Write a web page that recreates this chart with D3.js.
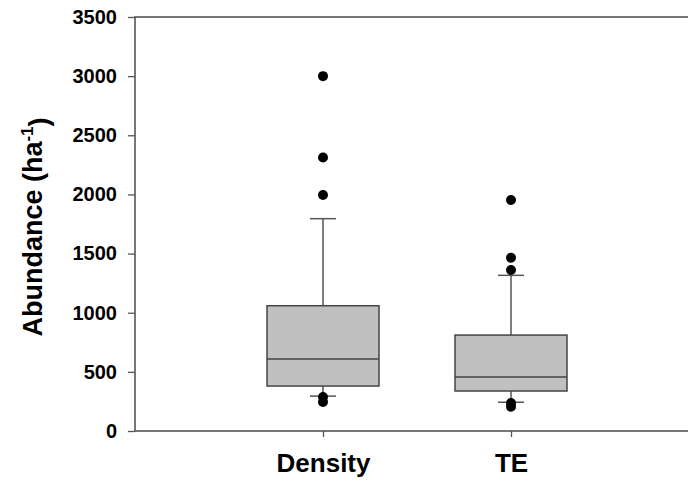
<!DOCTYPE html>
<html>
<head>
<meta charset="utf-8">
<script src="https://d3js.org/d3.v7.min.js"></script>
<style>
  body { margin: 0; background: #fff; }
  text { font-family: Arial, "Liberation Sans", sans-serif; font-weight: bold; fill: #000; }
</style>
</head>
<body>
<div id="chart"></div>
<script>
// Box plot - abundance by method
var svgWidth = 688;
var svgHeight = 482;

var margin = { top: 17, right: -11, bottom: 51, left: 135 };

var width = svgWidth - margin.left - margin.right;
var height = svgHeight - margin.top - margin.bottom;

// data
var categories = ["Density", "TE"];
var whiskerLow = [295, 243];
var q1 = [380, 338];
var median = [609, 456];
var q3 = [1059, 811];
var whiskerHigh = [1795, 1316];
var outliersDensity = [3000, 2312, 1995, 287, 245];
var outliersTE = [1953, 1465, 1361, 237, 205];
var yTicks = [0, 500, 1000, 1500, 2000, 2500, 3000, 3500];

var outliers = [outliersDensity, outliersTE];

var boxes = categories.map(function(c, i) {
    return {
        name: c, pos: i + 1,
        lo: whiskerLow[i], q1: q1[i], med: median[i], q3: q3[i], hi: whiskerHigh[i],
        out: outliers[i]
    };
});

var svg = d3.select("#chart")
    .append("svg")
    .attr("width", svgWidth)
    .attr("height", svgHeight);

var chartGroup = svg.append("g")
    .attr("transform", `translate(${margin.left}, ${margin.top})`);

var xScale = d3.scaleLinear().domain([0, 3]).range([0, width]);
var yScale = d3.scaleLinear().domain([0, 3500]).range([height, 0]);

var axisColor = "#555";
var boxW = 56;
var capW = 13;

// frame
chartGroup.append("rect")
    .attr("x", 0).attr("y", 0)
    .attr("width", width).attr("height", height)
    .attr("fill", "none")
    .attr("stroke", axisColor)
    .attr("stroke-width", 1.6);

// y axis
var leftAxis = d3.axisLeft(yScale).tickValues(yTicks).tickSize(7).tickPadding(11)
    .tickFormat(d3.format("d"));
var yAxis = chartGroup.append("g").call(leftAxis);
yAxis.select(".domain").remove();
yAxis.selectAll("line").attr("stroke", axisColor).attr("stroke-width", 1.3);
yAxis.selectAll("text").attr("font-size", "20px").attr("font-family", "Arial, 'Liberation Sans', sans-serif").attr("font-weight", "bold").attr("fill", "#000");

// x axis
var bottomAxis = d3.axisBottom(xScale).tickValues([1, 2]).tickSize(6).tickPadding(17)
    .tickFormat(function(d) { return categories[d - 1]; });
var xAxis = chartGroup.append("g")
    .attr("transform", `translate(0, ${height})`)
    .call(bottomAxis);
xAxis.select(".domain").remove();
xAxis.selectAll("line").attr("stroke", axisColor).attr("stroke-width", 1.3);
xAxis.selectAll("text").attr("font-size", "26px").attr("font-family", "Arial, 'Liberation Sans', sans-serif").attr("font-weight", "bold").attr("fill", "#000");

// y label
var yLabel = chartGroup.append("text")
    .attr("transform", `translate(${-margin.left + 42}, ${height / 2 + 3}) rotate(-90)`)
    .attr("text-anchor", "middle")
    .attr("font-size", "27px");
yLabel.append("tspan").text("Abundance (ha");
yLabel.append("tspan").attr("dy", "-0.55em").attr("font-size", "17px").text("-1");
yLabel.append("tspan").attr("dy", "0.55em").text(")");

var boxGroup = chartGroup.selectAll(".box")
    .data(boxes)
    .enter()
    .append("g")
    .attr("class", "box");

// whiskers
boxGroup.append("line")
    .attr("x1", d => xScale(d.pos)).attr("x2", d => xScale(d.pos))
    .attr("y1", d => yScale(d.q3)).attr("y2", d => yScale(d.hi))
    .attr("stroke", axisColor).attr("stroke-width", 1.5);
boxGroup.append("line")
    .attr("x1", d => xScale(d.pos)).attr("x2", d => xScale(d.pos))
    .attr("y1", d => yScale(d.q1)).attr("y2", d => yScale(d.lo))
    .attr("stroke", axisColor).attr("stroke-width", 1.5);

// caps
boxGroup.append("line")
    .attr("x1", d => xScale(d.pos) - capW).attr("x2", d => xScale(d.pos) + capW)
    .attr("y1", d => yScale(d.hi)).attr("y2", d => yScale(d.hi))
    .attr("stroke", axisColor).attr("stroke-width", 1.5);
boxGroup.append("line")
    .attr("x1", d => xScale(d.pos) - capW).attr("x2", d => xScale(d.pos) + capW)
    .attr("y1", d => yScale(d.lo)).attr("y2", d => yScale(d.lo))
    .attr("stroke", axisColor).attr("stroke-width", 1.5);

// box
boxGroup.append("rect")
    .attr("x", d => xScale(d.pos) - boxW)
    .attr("width", boxW * 2)
    .attr("y", d => yScale(d.q3))
    .attr("height", d => yScale(d.q1) - yScale(d.q3))
    .attr("fill", "#c0c0c0")
    .attr("stroke", "#444")
    .attr("stroke-width", 1.5);

// median
boxGroup.append("line")
    .attr("x1", d => xScale(d.pos) - boxW).attr("x2", d => xScale(d.pos) + boxW)
    .attr("y1", d => yScale(d.med)).attr("y2", d => yScale(d.med))
    .attr("stroke", "#444").attr("stroke-width", 1.5);

// outliers
boxGroup.selectAll("circle")
    .data(d => d.out.map(v => ({ pos: d.pos, v: v })))
    .enter()
    .append("circle")
    .attr("cx", d => xScale(d.pos))
    .attr("cy", d => yScale(d.v))
    .attr("r", 5)
    .attr("fill", "#000");
</script>
</body>
</html>
